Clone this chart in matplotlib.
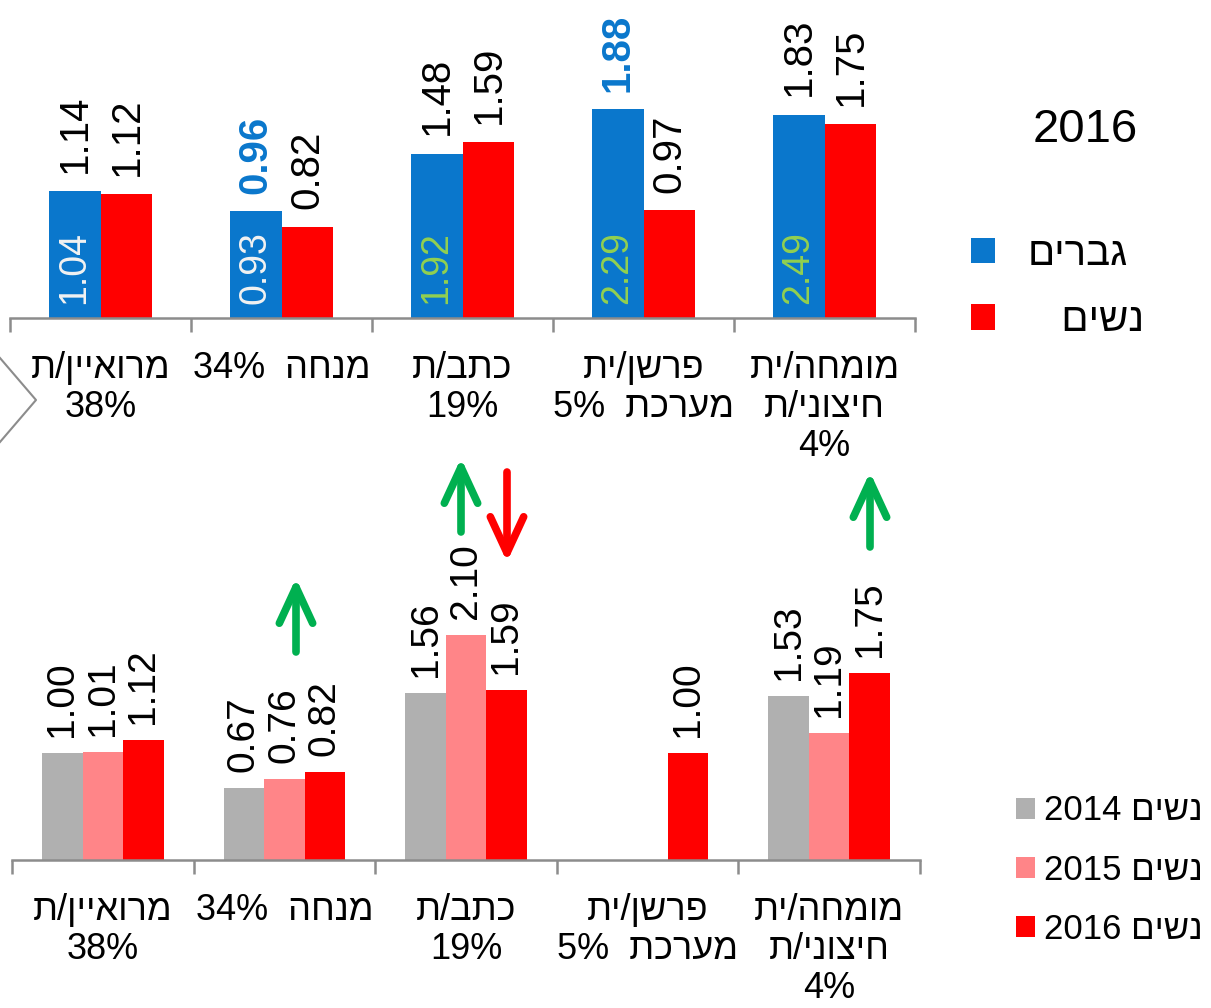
import numpy as np
import matplotlib
matplotlib.use("Agg")
import matplotlib.pyplot as plt
from matplotlib.lines import Line2D
from matplotlib.patches import FancyArrowPatch

plt.rcParams['font.family'] = ['Liberation Sans', 'DejaVu Sans']

# categories (visual order for RTL text, left to right as in the picture)
cat_labels = [
    "ת/ןייאורמ\n38%",
    "34%  החנמ",
    "ת/בתכ\n19%",
    "תי/ןשרפ\n5%  תכרעמ",
    "תי/החמומ\nת/ינוציח\n4%",
]

# top panel - 2016, men vs women
men_2016 = [1.14, 0.96, 1.48, 1.88, 1.83]
women_2016 = [1.12, 0.82, 1.59, 0.97, 1.75]
men_inner = [1.04, 0.93, 1.92, 2.29, 2.49]
men_bold = [False, True, False, True, False]

# bottom panel - women by year
women_2014 = [1.00, 0.67, 1.56, np.nan, 1.53]
women_2015 = [1.01, 0.76, 2.10, np.nan, 1.19]
women_2016b = [1.12, 0.82, 1.59, 1.00, 1.75]

BLUE = '#0A77CC'
RED = '#FF0000'
GRAY = '#B0B0B0'
PINK = '#FF8588'
LGREEN = '#92D050'
GREEN = '#00B050'
AXC = '#8C8C8C'

W, H = 1211, 1008
fig = plt.figure(figsize=(W / 100, H / 100), dpi=100)


def px(x, y):
    return x / W, 1 - y / H


def style_axis(ax):
    for s in ['top', 'right', 'left']:
        ax.spines[s].set_visible(False)
    ax.spines['bottom'].set_color(AXC)
    ax.spines['bottom'].set_linewidth(1.8)
    ax.set_yticks([])
    ax.set_xlim(-0.5, 4.5)
    ax.set_xticks(np.arange(-0.5, 5, 1))
    ax.set_xticklabels([])
    ax.tick_params(axis='x', which='major', length=10, width=1.8, color=AXC)
    ax.set_xticks(np.arange(5), minor=True)
    ax.set_xticklabels(cat_labels, minor=True, fontsize=26, linespacing=1.15)
    ax.tick_params(axis='x', which='minor', length=0, pad=24)
    ax.patch.set_alpha(0)


x = np.arange(5)

# ---- top panel ----
ax1 = fig.add_axes([10 / W, (H - 318) / H, 905 / W, 318 / H])
w = 0.287
ax1.bar(x - w / 2, men_2016, w, color=BLUE)
ax1.bar(x + w / 2, women_2016, w, color=RED)
ax1.set_ylim(0, 318 / 111)
style_axis(ax1)

for i in range(5):
    if men_bold[i]:
        ax1.text(x[i] - w / 2, men_2016[i] + 0.16, f"{men_2016[i]:.2f}", rotation=90,
                 ha='center', va='bottom', fontsize=29, color=BLUE, fontweight='bold', clip_on=False)
    else:
        ax1.text(x[i] - w / 2, men_2016[i] + 0.17, f"{men_2016[i]:.2f}", rotation=90,
                 ha='center', va='bottom', fontsize=29, color='black', clip_on=False)
    ax1.text(x[i] + w / 2, women_2016[i] + 0.16, f"{women_2016[i]:.2f}", rotation=90,
             ha='center', va='bottom', fontsize=29, color='black', clip_on=False)
    inner_col = '#F2F2F2' if men_inner[i] < 1.5 else LGREEN
    ax1.text(x[i] - w / 2, 0.13, f"{men_inner[i]:.2f}", rotation=90,
             ha='center', va='bottom', fontsize=27, color=inner_col)

fig.text(*px(1085, 130), "2016", fontsize=34, ha='center', va='center')
fig.legend(handles=ax1.containers, labels=['םירבג', '   םישנ'],
           loc='center left', bbox_to_anchor=px(935, 287), frameon=False,
           fontsize=29, handlelength=0.6, handleheight=0.6,
           handletextpad=0.8, labelspacing=0.7)

# ---- bottom panel ----
ax2 = fig.add_axes([12 / W, (H - 860) / H, 908 / W, 410 / H])
wb = 0.223
ax2.bar(x - wb, women_2014, wb, color=GRAY)
ax2.bar(x, women_2015, wb, color=PINK)
ax2.bar(x + wb, women_2016b, wb, color=RED)
ax2.set_ylim(0, 410 / 107)
style_axis(ax2)

for off, vals in [(-wb, women_2014), (0, women_2015), (wb, women_2016b)]:
    for i in range(5):
        if np.isnan(vals[i]):
            continue
        ax2.text(x[i] + off, vals[i] + 0.15, f"{vals[i]:.2f}", rotation=90,
                 ha='center', va='bottom', fontsize=28, color='black', clip_on=False)

fig.legend(handles=ax2.containers, labels=['2014 םישנ', '2015 םישנ', '2016 םישנ'],
           loc='center left', bbox_to_anchor=px(985, 870), frameon=False,
           fontsize=25, handlelength=0.55, handleheight=0.55,
           handletextpad=0.25, labelspacing=0.75)

# ---- arrows ----
arrows = [
    ((296, 652), (296, 578), GREEN),
    ((461, 532), (461, 458), GREEN),
    ((507, 472), (507, 562), RED),
    ((870, 547), (870, 472), GREEN),
]
for (x0, y0), (x1, y1), c in arrows:
    fig.add_artist(FancyArrowPatch(
        px(x0, y0), px(x1, y1), transform=fig.transFigure,
        arrowstyle='->,head_length=1.3,head_width=0.6', mutation_scale=20,
        color=c, lw=5.5, shrinkA=0, shrinkB=0, joinstyle='round', capstyle='round'))

# chevron shape on the left
cx, cy = zip(px(0, 358), px(36, 400), px(0, 442))
fig.add_artist(Line2D(cx, cy, transform=fig.transFigure, color='#8C8C8C', lw=1.5))

fig.savefig('out.png', dpi=100)
